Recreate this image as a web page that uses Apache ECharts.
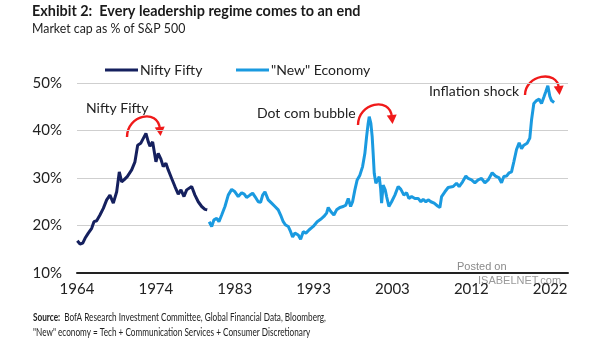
<!DOCTYPE html>
<html>
<head>
<meta charset="utf-8">
<script src="https://cdn.jsdelivr.net/npm/echarts@6/dist/echarts.min.js"></script>
<style>
  html, body { margin: 0; padding: 0; background: #fff; }
  #chart { width: 605px; height: 341px; }
</style>
</head>
<body>
<div id="chart"></div>
<script>
// ---- Data ----
const niftyYears = [1964.54,1964.87,1965.20,1965.48,1965.88,1966.29,1966.57,1966.90,1967.30,1967.71,1968.12,1968.52,1968.73,1968.93,1969.34,1969.66,1969.95,1970.23,1970.63,1971.17,1971.57,1971.90,1972.27,1972.51,1972.91,1973.20,1973.40,1973.73,1974.13,1974.41,1974.71,1975.02,1975.35,1975.63,1976.05,1976.45,1976.85,1977.18,1977.55,1977.88,1978.07,1978.49,1978.89,1979.29,1979.71,1980.11,1980.39];
const niftyValues = [16.8,16.1,16.3,17.3,18.4,19.4,20.8,21.0,22.2,23.6,25.4,26.4,26.8,24.7,27.1,31.3,29.2,29.6,30.3,31.7,33.4,36.9,37.3,37.2,39.4,37.6,36.7,37.6,33.4,35.2,34.1,32.4,33.1,31.7,29.9,28.2,26.6,27.5,26.1,27.5,27.1,28.2,26.4,25.0,24.0,23.4,23.3];

const newEconYears = [1980.63,1980.93,1981.21,1981.54,1981.82,1982.15,1982.55,1982.95,1983.37,1983.77,1984.17,1984.59,1984.90,1985.19,1985.60,1985.93,1986.21,1986.61,1986.90,1987.15,1987.43,1987.83,1988.24,1988.65,1989.05,1989.34,1989.66,1989.95,1990.27,1990.56,1990.80,1991.09,1991.49,1991.78,1992.10,1992.43,1992.83,1993.32,1993.80,1994.22,1994.62,1994.95,1995.15,1995.48,1995.84,1996.17,1996.57,1996.98,1997.30,1997.59,1997.88,1998.12,1998.40,1998.68,1999.01,1999.34,1999.62,1999.83,2000.02,2000.15,2000.35,2000.51,2000.63,2000.76,2000.96,2001.17,2001.37,2001.54,2001.66,2001.85,2002.10,2002.27,2002.55,2002.88,2003.28,2003.68,2004.01,2004.38,2004.71,2004.99,2005.32,2005.72,2006.12,2006.45,2006.73,2007.06,2007.34,2007.67,2008.07,2008.49,2008.77,2008.98,2009.38,2009.78,2010.39,2010.80,2011.12,2011.54,2011.94,2012.22,2012.63,2013.04,2013.44,2013.85,2014.26,2014.66,2015.15,2015.56,2015.96,2016.29,2016.57,2016.90,2017.22,2017.51,2017.79,2018.12,2018.44,2018.73,2019.01,2019.41,2019.74,2019.95,2020.23,2020.56,2020.88,2021.17,2021.45,2021.70,2021.94,2022.18,2022.39,2022.71];
const newEconValues = [20.8,19.8,21.2,21.5,20.8,22.2,24.0,26.4,27.6,27.1,26.1,26.9,26.6,25.9,26.4,26.8,26.1,25.0,24.9,26.4,27.1,25.4,24.7,24.0,23.3,22.2,20.8,20.1,19.8,18.7,17.6,18.4,18.0,17.1,18.7,18.4,19.1,19.8,20.8,21.3,21.9,22.6,23.8,22.9,22.2,23.3,23.8,24.0,24.3,25.7,24.0,25.0,27.5,29.6,30.6,32.4,35.2,38.7,41.5,42.9,41.5,38.7,35.2,31.0,28.9,29.6,30.3,27.8,24.7,28.5,27.5,26.1,24.0,25.0,26.4,28.2,27.6,26.4,26.9,25.7,26.1,25.7,25.7,25.0,25.5,25.0,25.4,25.0,24.7,24.1,23.8,26.1,27.1,28.0,28.2,28.9,28.2,29.2,30.4,29.9,29.6,29.0,29.6,29.9,29.0,29.6,31.1,30.4,30.1,29.0,30.3,30.4,31.1,31.3,33.4,36.0,37.4,36.2,36.9,37.3,38.4,42.2,45.7,46.3,46.6,45.7,47.0,48.2,49.4,47.2,46.3,45.9];

const xTickPositions = [1964.5,1974.12,1983.74,1993.36,2002.98,2012.6,2022.22];
const xTickLabels = ['1964','1974','1983','1993','2003','2012','2022'];
const seriesNames = ['Nifty Fifty', '"New" Economy'];

// ---- Chart ----
const FONT = 'Lato, "Open Sans", sans-serif';
const chart = echarts.init(document.getElementById('chart'), null, { renderer: 'canvas' });

function curvedArrow(x1, y1, x2, y2, lift) {
  const cp1x = x1, cp1y = y1 - lift;
  const cp2x = x2 - 2, cp2y = y2 - lift;
  const dx = x2 - cp2x, dy = y2 - cp2y;
  const len = Math.hypot(dx, dy);
  const ux = dx / len, uy = dy / len;
  const px = -uy, py = ux;
  const tipX = x2 + ux * 6, tipY = y2 + uy * 6;
  const bx = x2 - ux * 3, by = y2 - uy * 3;
  return [
    { type: 'bezierCurve', shape: { x1: x1, y1: y1, x2: x2 - ux * 1, y2: y2 - uy * 1, cpx1: cp1x, cpy1: cp1y, cpx2: cp2x, cpy2: cp2y },
      style: { stroke: '#f01a1a', lineWidth: 2.4, fill: null }, silent: true },
    { type: 'polygon', shape: { points: [[tipX, tipY], [bx + px * 5, by + py * 5], [bx - px * 5, by - py * 5]] },
      style: { fill: '#f01a1a' }, silent: true }
  ];
}

const option = {
  animation: false,
  backgroundColor: '#ffffff',
  textStyle: { fontFamily: FONT },
  legend: [
    { data: [seriesNames[0]], left: 100, top: 58, icon: 'rect', itemWidth: 33, itemHeight: 3, itemGap: 2,
      textStyle: { fontFamily: FONT, fontSize: 14, color: '#222', padding: [0, 0, 0, -3] } },
    { data: [seriesNames[1]], left: 231, top: 58, icon: 'rect', itemWidth: 33, itemHeight: 3, itemGap: 2,
      textStyle: { fontFamily: FONT, fontSize: 14, color: '#222', padding: [0, 0, 0, -3] } }
  ],
  grid: { left: 77, right: 37, top: 83, bottom: 68, containLabel: false },
  xAxis: {
    type: 'value', min: 1964.5, max: 2024.4,
    splitLine: { show: false },
    axisLine: { show: true, onZero: false, lineStyle: { color: '#222', width: 2 } },
    axisTick: { show: false },
    axisLabel: {
      customValues: xTickPositions,
      formatter: function (v) {
        let best = 0, bd = Infinity;
        xTickPositions.forEach((p, i) => { const d = Math.abs(p - v); if (d < bd) { bd = d; best = i; } });
        return xTickLabels[best];
      },
      fontFamily: FONT, fontSize: 15, color: '#222', margin: 9
    }
  },
  yAxis: {
    type: 'value', min: 10, max: 50, interval: 10,
    axisLine: { show: false }, axisTick: { show: false },
    splitLine: { lineStyle: { color: '#cfcfcf', width: 1 } },
    axisLabel: { formatter: '{value}%', fontFamily: FONT, fontSize: 15, color: '#222', margin: 15 }
  },
  series: [
    { name: seriesNames[0], type: 'line', showSymbol: false, symbol: 'none',
      data: niftyYears.map((y, i) => [y, niftyValues[i]]),
      lineStyle: { color: '#15205e', width: 3 }, itemStyle: { color: '#15205e' } },
    { name: seriesNames[1], type: 'line', showSymbol: false, symbol: 'none',
      data: newEconYears.map((y, i) => [y, newEconValues[i]]),
      lineStyle: { color: '#1a9ae0', width: 3 }, itemStyle: { color: '#1a9ae0' } }
  ],
  graphic: [
    { type: 'text', x: 32, y: 3, scaleX: 0.9, style: { text: 'Exhibit 2:  Every leadership regime comes to an end',
        font: 'bold 16px ' + FONT, fill: '#1a1a1a' } },
    { type: 'text', x: 32, y: 21, scaleX: 0.88, style: { text: 'Market cap as % of S&P 500',
        font: '14px ' + FONT, fill: '#222' } },
    { type: 'text', x: 86, y: 101, style: { text: 'Nifty Fifty', font: '14px ' + FONT, fill: '#222' } },
    { type: 'text', x: 257, y: 106, style: { text: 'Dot com bubble', font: '14px ' + FONT, fill: '#222' } },
    { type: 'text', x: 429, y: 84, style: { text: 'Inflation shock', font: '14px ' + FONT, fill: '#222' } },
    ...curvedArrow(127, 137, 160, 130, 22),
    ...curvedArrow(358, 125, 392, 118, 22),
    ...curvedArrow(525, 95, 559, 89, 20),
    { type: 'text', x: 457, y: 261, style: { text: 'Posted on', font: '11px "Liberation Sans", Arial, sans-serif', fill: '#8a8a8a' } },
    { type: 'text', x: 478, y: 275, style: { text: 'ISABELNET.com', font: '11px "Liberation Sans", Arial, sans-serif', fill: '#9a9a9a' } },
    { type: 'text', x: 33, y: 312, scaleX: 0.745, style: {
        text: '{b|Source:}  BofA Research Investment Committee, Global Financial Data, Bloomberg,',
        font: '11px ' + FONT, fill: '#222',
        rich: { b: { fontWeight: 'bold', fontSize: 11, fontFamily: FONT, fill: '#222' } } } },
    { type: 'text', x: 33, y: 327, scaleX: 0.745, style: {
        text: '"New" economy = Tech + Communication Services + Consumer Discretionary',
        font: '11px ' + FONT, fill: '#222' } }
  ]
};
chart.setOption(option);
</script>
</body>
</html>
